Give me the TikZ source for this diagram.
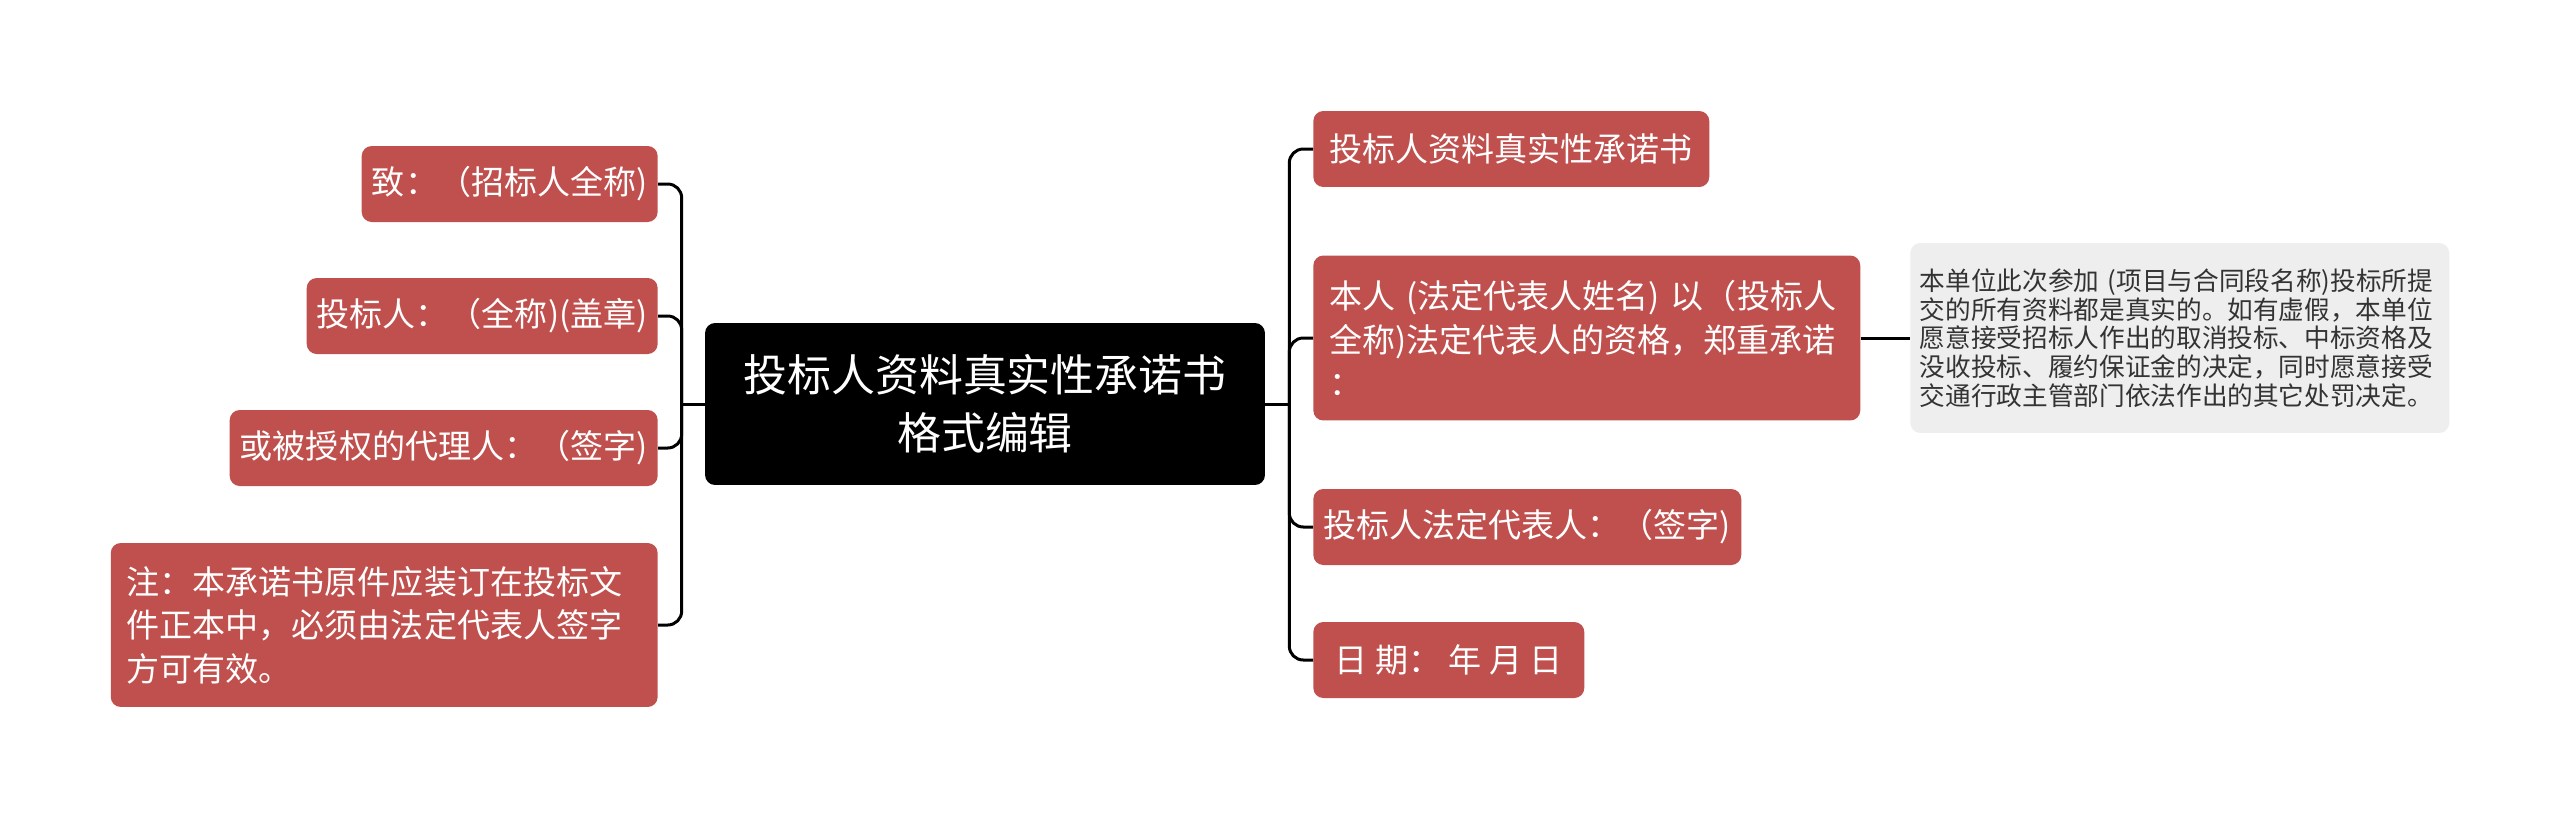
\documentclass[tikz,border=0pt]{standalone}
\usepackage{fontspec}
\setmainfont{Noto Sans CJK SC}
\usepackage{xcolor}
\usepackage{tikz}
\usetikzlibrary{positioning,calc}
\definecolor{nodered}{HTML}{C0504D}
\definecolor{notegray}{HTML}{EEEEEE}
\tikzset{
  rootbox/.style={fill=black, text=white, rounded corners=0.2cm, align=center,
                  font=\fontsize{25}{33}\selectfont, minimum width=11.2cm, minimum height=3.24cm},
  topic/.style={fill=nodered, text=white, rounded corners=0.2cm, align=center,
                font=\fontsize{18.8}{24.75}\selectfont, minimum height=1.52cm, inner xsep=0.2cm},
  topicpar/.style={topic, align=left, text width=10.3cm, inner xsep=0.32cm},
  notebox/.style={fill=notegray, text=black!80, rounded corners=0.2cm, align=left,
                  text width=10.4cm, font=\fontsize{14.6}{16.35}\selectfont,
                  minimum height=3.8cm, inner xsep=0.19cm},
  conn/.style={line width=0.06cm, rounded corners=0.28cm},
}

\begin{document}
\begin{tikzpicture}[x=0.02cm, y=-0.02cm]
    \useasboundingbox (0,0) rectangle (2560,819);
    \node[rootbox] (root) at (985,404) {投标人资料真实性承诺书\\格式编辑};
    % left side
    \node[topic, anchor=east, minimum width=5.92cm] (l1) at (658,184) {致：（招标人全称)};
    \node[topic, anchor=east, minimum width=7.02cm] (l2) at (658,316) {投标人：（全称)(盖章)};
    \node[topic, anchor=east, minimum width=8.56cm] (l3) at (658,448) {或被授权的代理人：（签字)};
    \node[topicpar, anchor=east, minimum height=3.28cm] (l4) at (658,625)
        {注：本承诺书原件应装订在投标文\\件正本中，必须由法定代表人签字\\方可有效。};
    % right side
    \node[topic, anchor=west, minimum width=7.92cm] (r1) at (1313,149) {投标人资料真实性承诺书};
    \node[topicpar, anchor=west, minimum height=3.3cm] (r2) at (1313,338)
        {本人 (法定代表人姓名) 以（投标人\\全称)法定代表人的资格，郑重承诺\\：};
    \node[topic, anchor=west, minimum width=8.56cm] (r3) at (1313,527) {投标人法定代表人：（签字)};
    \node[topic, anchor=west, minimum width=5.42cm] (r4) at (1313,660) {日 期： 年 月 日};
    \node[notebox, anchor=west] (g1) at (1910,338)
        {本单位此次参加 (项目与合同段名称)投标所提\\交的所有资料都是真实的。如有虚假，本单位\\愿意接受招标人作出的取消投标、中标资格及\\没收投标、履约保证金的决定，同时愿意接受\\交通行政主管部门依法作出的其它处罚决定。};
    % connectors
    \coordinate (jl) at ([xshift=-0.46cm]root.west);
    \coordinate (jr) at ([xshift=0.48cm]root.east);
    \draw[conn] (root.west) -- (jl);
    \draw[conn] (root.east) -- (jr);
    \foreach \n in {l1,l2,l3,l4}
      \draw[conn] (jl) |- (\n.east);
    \foreach \n in {r1,r2,r3,r4}
      \draw[conn] (jr) |- (\n.west);
    \draw[conn] (r2.east) -- (g1.west);
\end{tikzpicture}
\end{document}
